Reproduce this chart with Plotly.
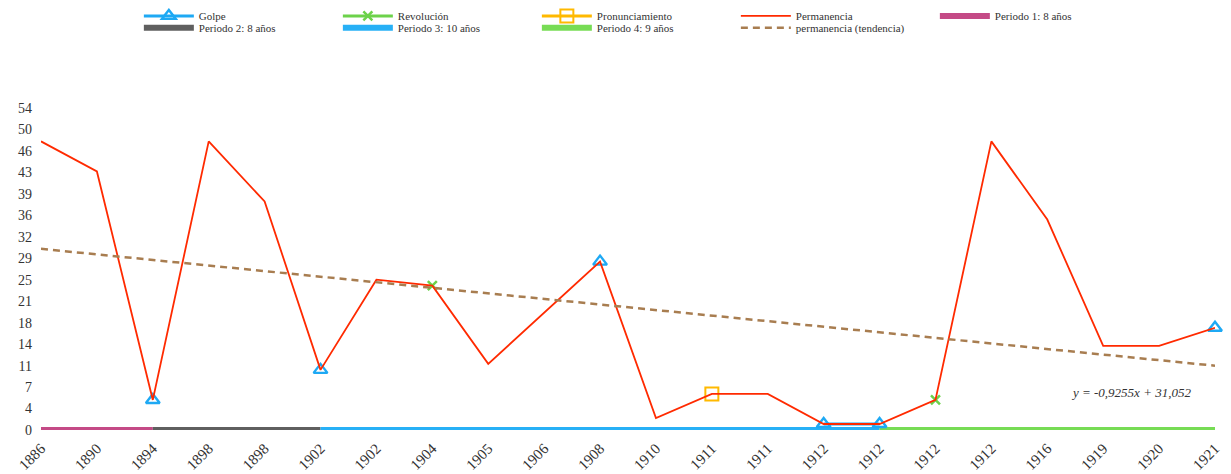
import plotly.graph_objects as go

# ---- data ----
x_labels = ["1886", "1890", "1894", "1898", "1898", "1902", "1902", "1904", "1905", "1906",
            "1908", "1910", "1911", "1911", "1912", "1912", "1912", "1912", "1916", "1919",
            "1920", "1921"]
permanencia = [48, 43, 5, 48, 38, 10, 25, 24, 11, 19.5, 28, 2, 6, 6, 1, 1, 5, 48, 35, 14, 14, 17]
golpe = [None, None, 5, None, None, 10, None, None, None, None, 28, None, None, None, 1, 1,
         None, None, None, None, None, 17]
revolucion = [None, None, None, None, None, None, None, 24, None, None, None, None, None, None,
              None, None, 5, None, None, None, None, None]
pronunciamiento = [None, None, None, None, None, None, None, None, None, None, None, None, 6,
                   None, None, None, None, None, None, None, None, None]
period_names = ["Periodo 1: 8 años", "Periodo 2: 8 años", "Periodo 3: 10 años", "Periodo 4: 9 años"]
period_start_idx = [0, 2, 5, 15]
period_end_idx = [2, 5, 15, 21]
trend_slope = -0.9255
trend_intercept = 31.052
trend_label = "y = -0,9255x + 31,052"
y_tick_step = 3.57
y_tick_labels = ["0", "4", "7", "11", "14", "18", "21", "25", "29", "32", "36", "39", "43", "46", "50", "54"]

# ---- styles ----
c_golpe = "#1EA9F4"
c_rev = "#6CD24A"
c_pron = "#FFB900"
c_perm = "#FF2A00"
c_periods = ["#C44A86", "#5F5F5F", "#27B0F6", "#77DC55"]
c_trend = "#A87D50"
font_family = "Liberation Serif"
period_legends = ["legend", "legend2", "legend2", "legend2"]

xs = list(range(len(x_labels)))
fig = go.Figure()

for i, name in enumerate(period_names):
    fig.add_trace(go.Scatter(
        x=[period_start_idx[i], period_end_idx[i]], y=[0, 0], mode="lines", name=name,
        line=dict(color=c_periods[i], width=6), legendrank=5 + i, cliponaxis=False,
        legend=period_legends[i], hoverinfo="skip"))

fig.add_trace(go.Scatter(
    x=xs, y=golpe, mode="lines+markers", name="Golpe", connectgaps=False,
    line=dict(color=c_golpe, width=3),
    marker=dict(symbol="triangle-up-open", size=12, color=c_golpe, line=dict(width=2.4, color=c_golpe)),
    legendrank=1, legend="legend", cliponaxis=False))

fig.add_trace(go.Scatter(
    x=xs, y=revolucion, mode="lines+markers", name="Revolución", connectgaps=False,
    line=dict(color=c_rev, width=3),
    marker=dict(symbol="x-thin-open", size=9, color=c_rev, line=dict(width=2.5, color=c_rev)),
    legendrank=2, legend="legend", cliponaxis=False))

fig.add_trace(go.Scatter(
    x=xs, y=pronunciamiento, mode="lines+markers", name="Pronunciamiento", connectgaps=False,
    line=dict(color=c_pron, width=3),
    marker=dict(symbol="square-open", size=13, color=c_pron, line=dict(width=2, color=c_pron)),
    legendrank=3, legend="legend", cliponaxis=False))

fig.add_trace(go.Scatter(
    x=xs, y=permanencia, mode="lines", name="Permanencia",
    line=dict(color=c_perm, width=1.8), legendrank=4, legend="legend", cliponaxis=False))

trend_y = [trend_slope * (i + 1) + trend_intercept for i in xs]
fig.add_trace(go.Scatter(
    x=xs, y=trend_y, mode="lines", name="permanencia (tendencia)",
    line=dict(color=c_trend, width=2.5, dash="7px,5px"), legendrank=9, legend="legend2"))

fig.add_annotation(x=19.5, y=6.3, xref="x", yref="y", text="<i>" + trend_label + "</i>",
                   showarrow=False, font=dict(family=font_family, size=13, color="#333333"))

legend_common = dict(orientation="h", xref="container", yref="container",
                     xanchor="left", bgcolor="rgba(0,0,0,0)",
                     font=dict(family=font_family, size=11, color="#333333"),
                     entrywidth=134, entrywidthmode="pixels", itemwidth=50, traceorder="normal")

fig.update_layout(
    width=1223, height=466,
    margin=dict(l=33, r=16, t=100, b=44),
    paper_bgcolor="white", plot_bgcolor="white",
    font=dict(family=font_family, color="#333333"),
    showlegend=True,
    legend=dict(x=0.107, y=0.983, yanchor="middle", **legend_common),
    legend2=dict(x=0.107, y=0.989, yanchor="top", **legend_common),
)
fig.update_xaxes(range=[0, 21], tickmode="array", tickvals=xs, ticktext=x_labels,
                 tickangle=-45, showgrid=False, zeroline=False, showline=False, automargin=False,
                 tickfont=dict(family=font_family, size=15, color="#333333"), ticks="",
                 ticklabelstandoff=6)
fig.update_yaxes(range=[0, y_tick_step * 15], tickmode="array",
                 tickvals=[i * y_tick_step for i in range(16)], ticktext=y_tick_labels,
                 showgrid=False, zeroline=False, showline=False, ticks="", automargin=False,
                 tickfont=dict(family=font_family, size=14, color="#333333"), ticklabelstandoff=8)

fig.write_html("out.html")
